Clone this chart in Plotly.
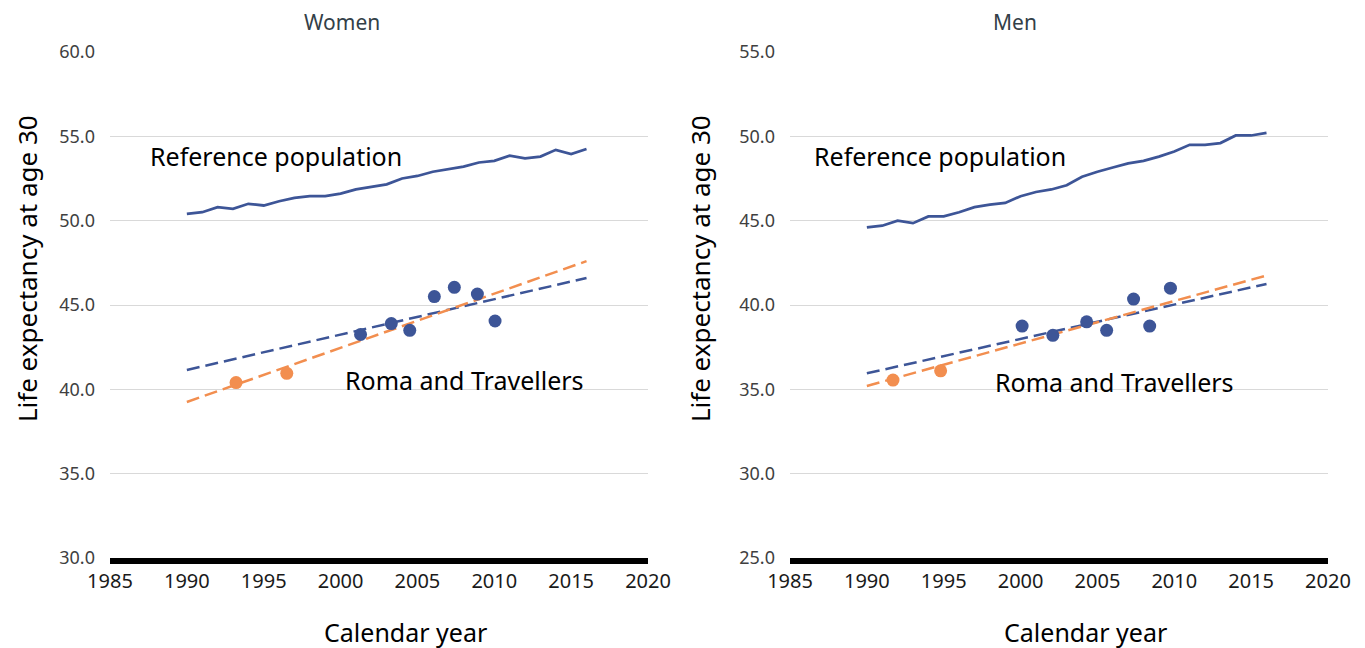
import plotly.graph_objects as go

# Reference population, annual life expectancy at age 30
ref_years = list(range(1990, 2017))
women_ref = [50.4, 50.5, 50.8, 50.7, 51.0, 50.9, 51.15, 51.35, 51.45, 51.45,
             51.6, 51.85, 52.0, 52.15, 52.5, 52.65, 52.9, 53.05, 53.2, 53.45,
             53.55, 53.85, 53.7, 53.8, 54.2, 53.95, 54.25]
men_ref = [44.6, 44.7, 45.0, 44.85, 45.25, 45.25, 45.5, 45.8, 45.95, 46.05,
           46.45, 46.7, 46.85, 47.1, 47.6, 47.9, 48.15, 48.4, 48.55, 48.8,
           49.1, 49.5, 49.5, 49.6, 50.05, 50.05, 50.2]

# Roma and Travellers study estimates
women_blue_x = [2001.3, 2003.3, 2004.5, 2006.1, 2007.4, 2008.9, 2010.05]
women_blue_y = [43.25, 43.9, 43.5, 45.5, 46.05, 45.65, 44.05]
women_orange_x = [1993.2, 1996.5]
women_orange_y = [40.4, 40.95]

men_blue_x = [2000.1, 2002.1, 2004.3, 2005.6, 2007.35, 2008.4, 2009.75]
men_blue_y = [38.75, 38.2, 39.0, 38.5, 40.35, 38.75, 41.0]
men_orange_x = [1991.7, 1994.8]
men_orange_y = [35.55, 36.1]

# Linear trend lines (endpoints)
trend_x = [1990, 2016]
women_blue_trend = [41.15, 46.6]
women_orange_trend = [39.25, 47.6]
men_blue_trend = [35.95, 41.25]
men_orange_trend = [35.2, 41.75]

NAVY = "#3D5597"
ORANGE = "#F28E4F"
FONT = "Noto Sans"

fig = go.Figure()

panels = [
    ("x", "y", women_ref, women_blue_x, women_blue_y, women_orange_x,
     women_orange_y, women_blue_trend, women_orange_trend),
    ("x2", "y2", men_ref, men_blue_x, men_blue_y, men_orange_x,
     men_orange_y, men_blue_trend, men_orange_trend),
]

for xa, ya, ref, bx, by, ox, oy, bt, ot in panels:
    fig.add_trace(go.Scatter(x=ref_years, y=ref, mode="lines",
                             line=dict(color=NAVY, width=2.75),
                             xaxis=xa, yaxis=ya, showlegend=False))
    fig.add_trace(go.Scatter(x=trend_x, y=bt, mode="lines",
                             line=dict(color=NAVY, width=2.5, dash="13px,6px"),
                             xaxis=xa, yaxis=ya, showlegend=False))
    fig.add_trace(go.Scatter(x=trend_x, y=ot, mode="lines",
                             line=dict(color=ORANGE, width=2.5, dash="13px,6px"),
                             xaxis=xa, yaxis=ya, showlegend=False))
    fig.add_trace(go.Scatter(x=bx, y=by, mode="markers",
                             marker=dict(color=NAVY, size=13),
                             xaxis=xa, yaxis=ya, showlegend=False))
    fig.add_trace(go.Scatter(x=ox, y=oy, mode="markers",
                             marker=dict(color=ORANGE, size=13),
                             xaxis=xa, yaxis=ya, showlegend=False))

xaxis_common = dict(
    range=[1985, 2020], tickmode="linear", tick0=1985, dtick=5,
    showgrid=False, zeroline=False, showline=True, linecolor="black",
    linewidth=6, ticks="", tickfont=dict(size=20, color="#1a1a1a"),
    automargin=False, fixedrange=True,
)
yaxis_common = dict(
    tickformat=".1f", dtick=5, showgrid=True, gridcolor="#d9d9d9",
    gridwidth=1, zeroline=False, showline=False, ticks="",
    ticklabelstandoff=14, tickfont=dict(size=18, color="#404040"),
    automargin=False, fixedrange=True,
)

# Panel titles and axis titles (placed in paper coordinates)
paper_text = [
    ("Women", 0.2476, 1.059, 0, 21, "#333f48"),
    ("Men", 0.7465, 1.059, 0, 21, "#333f48"),
    ("Life expectancy at age 30", 0.0141, 0.571, -90, 26, "black"),
    ("Life expectancy at age 30", 0.513, 0.571, -90, 26, "black"),
    ("Calendar year", 0.2950, -0.146, 0, 25, "black"),
    ("Calendar year", 0.7991, -0.146, 0, 25, "black"),
]
annotations = [
    dict(text=t, x=x, y=y, xref="paper", yref="paper", textangle=a,
         xanchor="center", yanchor="middle", showarrow=False,
         font=dict(size=s, color=c))
    for t, x, y, a, s, c in paper_text
]

# Series labels (placed in data coordinates)
series_labels = [
    ("Reference population", 1987.5, 53.85, "x", "y"),
    ("Roma and Travellers", 2000.15, 40.55, "x", "y"),
    ("Reference population", 1986.4, 48.85, "x2", "y2"),
    ("Roma and Travellers", 1998.2, 35.45, "x2", "y2"),
]
annotations += [
    dict(text=t, x=x, y=y, xref=xr, yref=yr, xanchor="left",
         yanchor="middle", showarrow=False, font=dict(size=25))
    for t, x, y, xr, yr in series_labels
]

fig.update_layout(
    width=1349, height=640,
    margin=dict(l=0, r=0, t=44, b=90),
    plot_bgcolor="#ffffff", paper_bgcolor="#ffffff",
    font=dict(family=FONT, color="black"),
    xaxis=dict(domain=[0.07561, 0.47443], anchor="y", **xaxis_common),
    xaxis2=dict(domain=[0.57969, 0.97850], anchor="y2", **xaxis_common),
    yaxis=dict(range=[30, 60], anchor="x", **yaxis_common),
    yaxis2=dict(range=[25, 55], anchor="x2", **yaxis_common),
    annotations=annotations,
)

fig.write_html("out.html")
